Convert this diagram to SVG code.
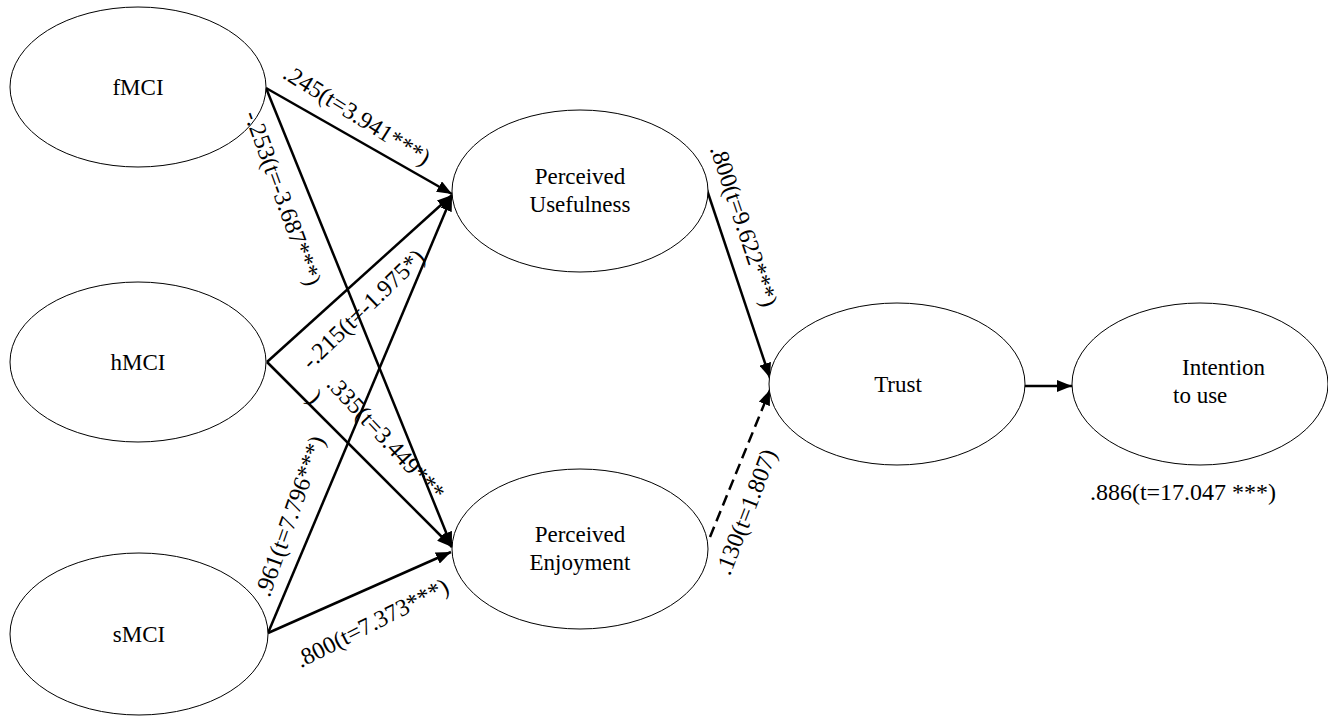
<svg xmlns="http://www.w3.org/2000/svg" width="1328" height="717" viewBox="0 0 1328 717">
<style>
.node ellipse{fill:#fff;stroke:#000;stroke-width:1}
.node text{font-family:'Liberation Serif','Times New Roman',serif;font-size:23px;fill:#000}
.lbl{font-family:'Liberation Serif','Times New Roman',serif;font-size:24px;fill:#000;text-anchor:middle}
.edge{stroke:#000;stroke-width:2.5;fill:none;marker-end:url(#arr)}
.dash{stroke-dasharray:11,6}
</style>
<defs>
<marker id="arr" markerUnits="userSpaceOnUse" markerWidth="16" markerHeight="12" refX="15" refY="6" orient="auto">
<path d="M0,0 L15,6 L0,12 z" fill="#000"/>
</marker>
</defs>
<rect width="1328" height="717" fill="#fff"/>
<g id="connectors">
<line class="edge" x1="266" y1="88" x2="452" y2="194"/>
<line class="edge" x1="266" y1="88" x2="452" y2="547"/>
<line class="edge" x1="267" y1="362" x2="452" y2="195"/>
<line class="edge" x1="267" y1="362" x2="452" y2="547"/>
<line class="edge" x1="268" y1="633" x2="452" y2="196"/>
<line class="edge" x1="268" y1="633" x2="451" y2="552"/>
<line class="edge" x1="707" y1="190" x2="770" y2="378"/>
<line class="edge dash" x1="710" y1="537" x2="770" y2="390"/>
<line class="edge" x1="1025" y1="386" x2="1072" y2="386"/>
</g>
<g id="node-fMCI" class="node" font-family="Liberation Serif, serif"><ellipse cx="138" cy="87" rx="128" ry="80"/><text x="138" y="95" text-anchor="middle">fMCI</text></g>
<g id="node-hMCI" class="node" font-family="Liberation Serif, serif"><ellipse cx="138" cy="362" rx="128" ry="80"/><text x="138" y="370" text-anchor="middle">hMCI</text></g>
<g id="node-sMCI" class="node" font-family="Liberation Serif, serif"><ellipse cx="139" cy="634" rx="129" ry="81"/><text x="139" y="642" text-anchor="middle">sMCI</text></g>
<g id="node-PU" class="node" font-family="Liberation Serif, serif"><ellipse cx="580" cy="191" rx="128" ry="81"/><text x="580" y="184" text-anchor="middle">Perceived</text><text x="580" y="212" text-anchor="middle">Usefulness</text></g>
<g id="node-PE" class="node" font-family="Liberation Serif, serif"><ellipse cx="580" cy="549" rx="128" ry="80"/><text x="580" y="542" text-anchor="middle">Perceived</text><text x="580" y="570" text-anchor="middle">Enjoyment</text></g>
<g id="node-Trust" class="node" font-family="Liberation Serif, serif"><ellipse cx="897" cy="384" rx="128" ry="81"/><text x="898" y="392" text-anchor="middle">Trust</text></g>
<g id="node-Intention" class="node" font-family="Liberation Serif, serif"><ellipse cx="1200" cy="384" rx="128" ry="81"/><text x="1182" y="375">Intention</text><text x="1173" y="403">to use</text></g>
<g id="labels" font-family="Liberation Serif, serif">
<text class="lbl" transform="translate(357,115) rotate(32)" y="8">.245(t=3.941***)</text>
<text class="lbl" transform="translate(283,198) rotate(70)" y="8">-.253(t=-3.687***)</text>
<text class="lbl" transform="translate(363,309) rotate(-44)" y="8">-.215(t=-1.975*)</text>
<text class="lbl" transform="translate(386,438) rotate(47)" y="8">.335(t=3.449***</text>
<text class="lbl" transform="translate(315,397) rotate(47)" y="8">)</text>
<text class="lbl" transform="translate(290,516) rotate(-70.6)" y="8">.961(t=7.796***)</text>
<text class="lbl" transform="translate(372,623) rotate(-27)" y="8">.800(t=7.373***)</text>
<text class="lbl" transform="translate(744,226) rotate(71.5)" y="8">.800(t=9.622***)</text>
<text class="lbl" transform="translate(746,512) rotate(-69)" y="8">.130(t=1.807)</text>
<text class="lbl" x="1183" y="500">.886(t=17.047 ***)</text>
</g>
</svg>
